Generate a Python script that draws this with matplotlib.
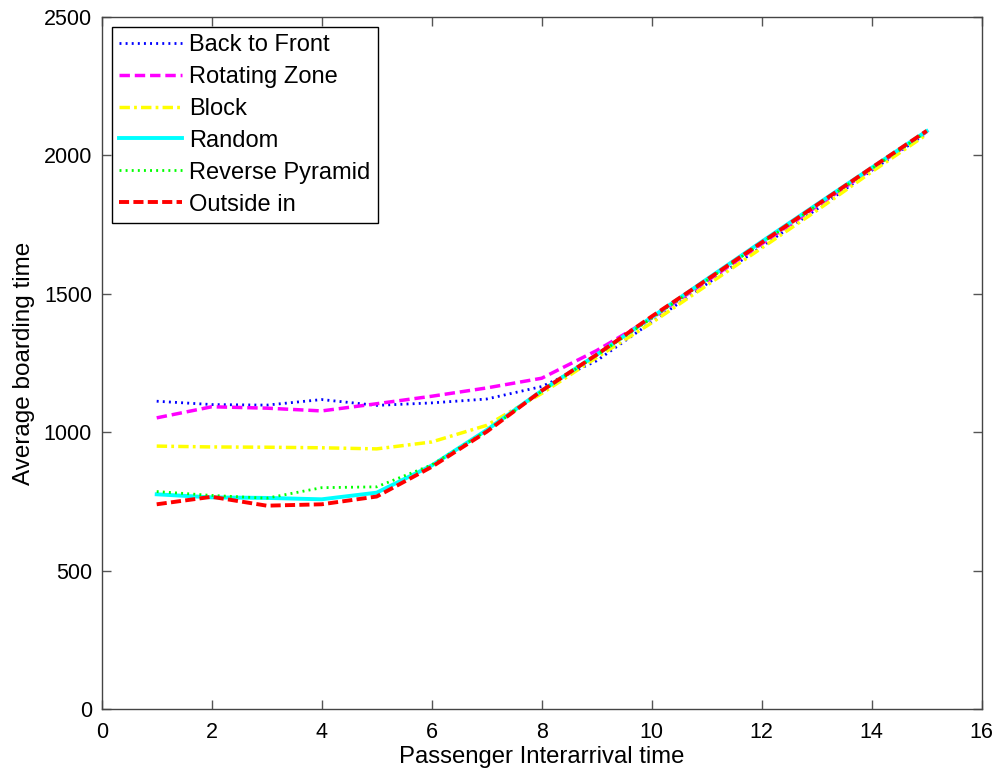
import matplotlib
matplotlib.use("Agg")
import matplotlib.pyplot as plt

plt.rcParams['font.family'] = ['Liberation Sans', 'DejaVu Sans']

x = [1, 2, 3, 4, 5, 6, 7, 8, 9, 10, 11, 12, 13, 14, 15]
back_to_front = [1112, 1100, 1098, 1118, 1097, 1106, 1120, 1165, 1258, 1398, 1535, 1670, 1805, 1945, 2080]
rotating_zone = [1052, 1092, 1087, 1077, 1103, 1130, 1160, 1195, 1295, 1412, 1545, 1680, 1815, 1950, 2085]
block = [950, 947, 946, 944, 940, 965, 1025, 1140, 1270, 1395, 1530, 1665, 1800, 1940, 2075]
random_ = [776, 765, 763, 758, 782, 880, 1008, 1150, 1280, 1415, 1552, 1688, 1822, 1955, 2087]
reverse_pyramid = [786, 772, 762, 800, 803, 882, 1005, 1148, 1278, 1412, 1548, 1683, 1818, 1952, 2085]
outside_in = [740, 767, 735, 740, 768, 875, 1002, 1150, 1280, 1418, 1550, 1685, 1820, 1955, 2088]

labels = ['Back to Front', 'Rotating Zone', 'Block', 'Random', 'Reverse Pyramid', 'Outside in']
xticks = [0, 2, 4, 6, 8, 10, 12, 14, 16]
yticks = [0, 500, 1000, 1500, 2000, 2500]

fig = plt.figure(figsize=(9.97, 7.75), dpi=100)
fig.patch.set_facecolor('white')
ax = fig.add_axes([101.7/997, (775-709.3)/775, 880/997, 692.6/775])

lw = 2.5
ax.plot(x, back_to_front, color=(0, 0, 1), lw=2.0, linestyle=(0, (0.7, 1.5)), label=labels[0])
ax.plot(x, rotating_zone, color=(1, 0, 1), lw=lw, linestyle=(0, (3.0, 1.4)), label=labels[1])
ax.plot(x, block, color=(1, 1, 0), lw=lw, linestyle=(0, (3.0, 1.2, 0.8, 1.2)), label=labels[2])
ax.plot(x, random_, color=(0, 1, 1), lw=lw + 0.3, linestyle='-', label=labels[3])
ax.plot(x, reverse_pyramid, color=(0, 1, 0), lw=2.0, linestyle=(0, (0.7, 1.5)), label=labels[4])
ax.plot(x, outside_in, color=(1, 0, 0), lw=lw + 0.3, linestyle=(0, (2.6, 1.1)), label=labels[5])

ax.set_xlim(0, 16)
ax.set_ylim(0, 2500)
ax.set_xticks(xticks)
ax.set_yticks(yticks)
ax.tick_params(direction='in', length=6.5, width=1, top=True, right=True,
               labelsize=15.5, color='#555555')
ax.tick_params(axis='x', pad=9)
ax.tick_params(axis='y', pad=7)
for s in ax.spines.values():
    s.set_color('#444444')
    s.set_linewidth(1.0)

ax.set_xlabel('Passenger Interarrival time', fontsize=17.2, labelpad=2)
ax.set_ylabel('Average boarding time', fontsize=17.5, labelpad=6)

leg = ax.legend(loc='upper left', fontsize=17, frameon=True, fancybox=False,
                edgecolor='black', framealpha=1, borderaxespad=0.43,
                handlelength=2.65, handletextpad=0.33, labelspacing=0.42,
                borderpad=0.3)
leg.get_frame().set_linewidth(1.0)

fig.savefig('out.png', dpi=100, facecolor='white')
